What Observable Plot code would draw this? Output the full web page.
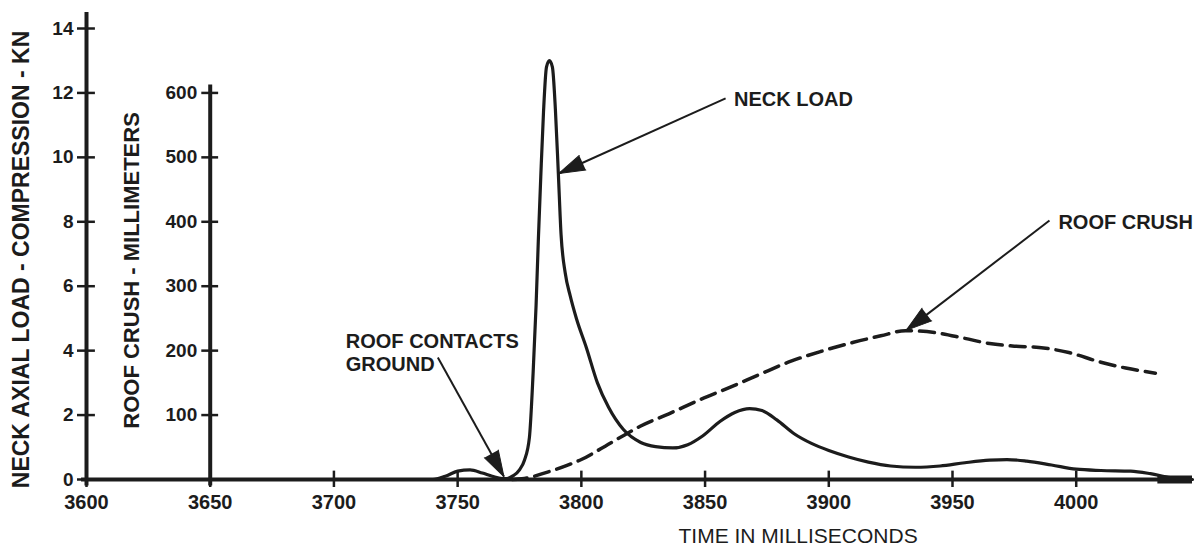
<!DOCTYPE html>
<html>
<head>
<meta charset="utf-8">
<script src="https://cdn.jsdelivr.net/npm/d3@7"></script>
<script src="https://cdn.jsdelivr.net/npm/@observablehq/plot@0.6"></script>
<style>
  html, body { margin: 0; padding: 0; background: #fff; }
  #chart svg { display: block; }
</style>
</head>
<body>
<div id="chart"></div>
<script>
// ---- data ----
const neckTime = [3600,3740,3745,3750,3755,3760,3764,3768,3770,3772.5,3775,3777,3779,3780.5,3781.7,3782.6,3783.6,3784.7,3785.9,3787.1,3788.3,3789.5,3790.7,3791.8,3793.5,3795.5,3798,3802,3806.5,3811,3817,3824,3830,3837,3843,3849,3856,3862,3868,3873,3879,3886,3893,3900,3908,3916,3925,3935,3945,3955,3965,3972,3980,3990,4000,4010,4022,4030,4038,4047];
const neckLoadKN = [0,0,0.1,0.26,0.3,0.2,0.1,0.03,0.03,0.12,0.3,0.6,1.3,3.3,5.4,7.4,9.4,11.4,12.8,13.0,12.8,11.5,9.5,7.6,6.4,5.7,5.0,4.1,3.0,2.24,1.55,1.15,1.02,0.98,1.08,1.35,1.8,2.08,2.2,2.14,1.85,1.42,1.12,0.9,0.7,0.54,0.42,0.38,0.42,0.52,0.6,0.62,0.57,0.45,0.32,0.28,0.26,0.18,0.06,0];

const crushTime = [3772,3776,3780,3785,3790,3795,3800,3808,3816,3824,3836,3848,3860,3872,3885,3897,3910,3921,3931,3943,3955,3965,3975,3985,3997,4010,4020,4032];
const crushMM = [0,1,4,10,16,23,31,48,66,83,103,124,143,163,184,199,213,223,231,228,219,211,207,205,197,182,173,165];

const timeTicks = [3600,3650,3700,3750,3800,3850,3900,3950,4000];
const loadTicks = [0,2,4,6,8,10,12,14];
const crushTicks = [100,200,300,400,500,600];
const mmPerKN = 50;          // 600 mm sits level with 12 kN
const crushAxisTime = 3650;  // the roof-crush axis stands at 3650 ms

const xTitle = "TIME IN MILLISECONDS";
const yTitleLoad = "NECK AXIAL LOAD - COMPRESSION - KN";
const yTitleCrush = "ROOF CRUSH - MILLIMETERS";

// annotations (data coordinates: ms, kN)
const annotations = [
  {text: "NECK LOAD", tx: 3861.7, ty: 11.83, x1: 3858.3, y1: 11.83, x2: 3790.9, y2: 9.5},
  {text: "ROOF CRUSH", tx: 3992.8, ty: 8.02, x1: 3989.2, y1: 8.04, x2: 3931.3, y2: 4.63},
  {text: "ROOF CONTACTS\nGROUND", tx: 3704.8, ty: 3.96, x1: 3742.0, y1: 3.79, x2: 3768.7, y2: 0.09}
];

// ---- build ----
const ink = "#1c1c1c";
const neck = neckTime.map((t, i) => ({t, v: neckLoadKN[i]}));
const crush = crushTime.map((t, i) => ({t, mm: crushMM[i]}));
const font = "'Liberation Sans', Arial, Helvetica, sans-serif";

function baseMarks() {
  return [
    // main x axis
    Plot.ruleY([0], {x1: 3598, x2: 4047, stroke: ink, strokeWidth: 4}),
    Plot.ruleY([0], {x1: 4033, x2: 4047, stroke: ink, strokeWidth: 8}),
    Plot.axisX(timeTicks, {anchor: "bottom", tickSize: 8, tickPadding: 7, strokeWidth: 2.5,
      fontSize: 20, fontWeight: "bold", tickFormat: d => String(d), label: null, color: ink}),
    Plot.ruleX(timeTicks, {y1: 0, y2: 0.26, stroke: ink, strokeWidth: 2.5}),
    Plot.text([xTitle], {x: 3887.6, frameAnchor: "bottom", dy: 63, fontSize: 21, fill: ink, text: d => d}),
    // left (kN) axis
    Plot.ruleX([3600], {y1: -0.2, y2: 14.5, stroke: ink, strokeWidth: 4}),
    Plot.axisY(loadTicks, {anchor: "left", tickSize: 9, tickPadding: 4, strokeWidth: 2.5,
      fontSize: 19, fontWeight: "bold", label: null, color: ink}),
    Plot.ruleY(loadTicks, {x1: 3600, x2: 3603.6, stroke: ink, strokeWidth: 2.5}),
    Plot.text([yTitleLoad], {x: 3573.9, y: 6.83, rotate: -90, fontSize: 23, fontWeight: "bold", fill: ink, text: d => d}),
    // roof crush (mm) axis
    Plot.ruleX([crushAxisTime], {y1: -0.2, y2: 12.25, stroke: ink, strokeWidth: 4}),
    Plot.ruleY(crushTicks, {y: d => d / mmPerKN, x1: crushAxisTime - 3.4, x2: crushAxisTime + 3.4, stroke: ink, strokeWidth: 2.5}),
    Plot.text(crushTicks, {x: crushAxisTime, y: d => d / mmPerKN, text: d => String(d), textAnchor: "end", dx: -13,
      fontSize: 19, fontWeight: "bold", fill: ink}),
    Plot.text([yTitleCrush], {x: 3618.4, y: 6.49, rotate: -90, fontSize: 22, fontWeight: "bold", fill: ink, text: d => d}),
    // series
    Plot.line(crush, {x: "t", y: d => d.mm / mmPerKN, stroke: ink, strokeWidth: 3.5, strokeDasharray: "15,8", curve: "monotone-x"}),
    Plot.line(neck, {x: "t", y: "v", stroke: ink, strokeWidth: 3.2, curve: "monotone-x"}),
    // annotations
    Plot.link(annotations, {x1: "x1", y1: "y1", x2: "x2", y2: "y2", stroke: ink, strokeWidth: 2}),
    Plot.text(annotations, {x: "tx", y: "ty", text: "text", textAnchor: "start", lineHeight: 1.15,
      fontSize: 20, fontWeight: "bold", fill: ink})
  ];
}

const config = {
  width: 1196,
  height: 557,
  marginLeft: 86,
  marginRight: 4,
  marginTop: 28,
  marginBottom: 78,
  x: {domain: [3600, 4047]},
  y: {domain: [0, 14]},
  style: {fontFamily: font, fontSize: "20px", color: ink, background: "#fff", overflow: "visible"}
};

// first pass to read the library's scales, for arrow-head orientation
const probe = Plot.plot({...config, marks: baseMarks()});
const X = probe.scale("x"), Y = probe.scale("y");
const heads = annotations.map(a => {
  const dx = X.apply(a.x2) - X.apply(a.x1);
  const dy = Y.apply(a.y2) - Y.apply(a.y1);
  return {...a, angle: Math.atan2(dx, -dy) * 180 / Math.PI};
});

const chart = Plot.plot({
  ...config,
  marks: [
    ...baseMarks(),
    Plot.vector(heads, {x: "x2", y: "y2", rotate: "angle", length: 26, r: 8, shape: "spike",
      anchor: "end", fill: ink, stroke: ink, strokeWidth: 1})
  ]
});
document.getElementById("chart").append(chart);
</script>
</body>
</html>
